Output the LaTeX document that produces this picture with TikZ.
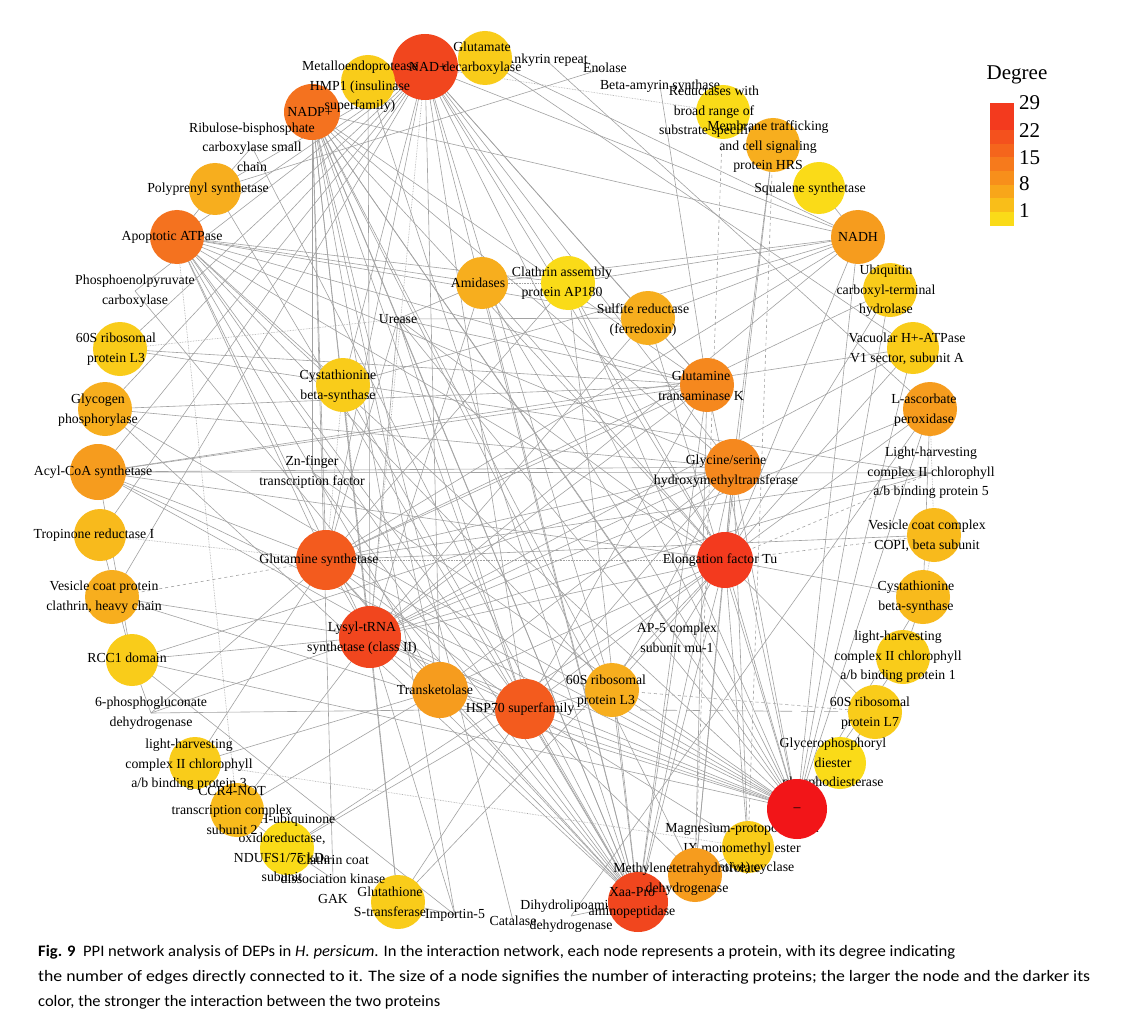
\documentclass[tikz,border=0pt]{standalone}
\usepackage{fontspec}
\usepackage{graphicx}
\setmainfont{Liberation Serif}
\newfontfamily\capfont{Carlito}
\usetikzlibrary{calc}
\definecolor{cA}{HTML}{FADB18}
\definecolor{cB}{HTML}{F9CC1A}
\definecolor{cC}{HTML}{F8BA1C}
\definecolor{cD}{HTML}{F7AE1E}
\definecolor{cE}{HTML}{F69C1E}
\definecolor{cF}{HTML}{F5881E}
\definecolor{cG}{HTML}{F4721F}
\definecolor{cH}{HTML}{F35B1E}
\definecolor{cI}{HTML}{F1461E}
\definecolor{cJ}{HTML}{F33A1E}
\definecolor{cRed}{HTML}{F21518}
\definecolor{edgegray}{HTML}{A2A2A2}
\newcommand\lblfont{\fontsize{13.8}{19.5}\selectfont}
\newcommand\bub[6]{%
  \node[bubble, minimum size=#2pt, fill=#3] (#1c) at (#1) {};
  \node[lbl] (#1t) at (#4,#5) {#6};}
\begin{document}
\begin{tikzpicture}[x=1pt,y=-1pt,
  edge/.style={draw=edgegray, line width=0.6pt},
  edot/.style={edge, densely dotted},
  edash/.style={edge, dashed},
  elong/.style={edge, dash pattern=on 14pt off 9pt},
  lbl/.style={font=\lblfont, align=center, inner sep=0pt, text=black},
  bubble/.style={circle, inner sep=0pt, draw=none}]
\useasboundingbox (0,0) rectangle (1123,1016);
\fill[white] (0,0) rectangle (1123,1016);
% ---------- node centres ----------
\coordinate (nadp) at (312,112);
\coordinate (metallo) at (368,82);
\coordinate (nad) at (425,67);
\coordinate (glutdc) at (485,58);
\coordinate (ankyrin) at (546,60);
\coordinate (enolase) at (605,68);
\coordinate (betaamy) at (660,86);
\coordinate (reduct) at (723,112);
\coordinate (membr) at (773,145);
\coordinate (squal) at (819,188);
\coordinate (nadh) at (858,237);
\coordinate (ubiq) at (890,290);
\coordinate (vacu) at (913,348);
\coordinate (lasc) at (930,409);
\coordinate (lhcbv) at (931,473);
\coordinate (copi) at (934,535);
\coordinate (cbsR) at (923,597);
\coordinate (lhcbi) at (903,657);
\coordinate (rplvii) at (875,712);
\coordinate (glycero) at (840,763);
\coordinate (red) at (797,809);
\coordinate (mgcyc) at (748,847);
\coordinate (methyl) at (695,875);
\coordinate (xaa) at (638,902);
\coordinate (dihydro) at (571,916);
\coordinate (catalase) at (513,921);
\coordinate (importin) at (455,915);
\coordinate (gst) at (398,902);
\coordinate (gak) at (333,879);
\coordinate (ndufs) at (287,848);
\coordinate (ccr) at (237,810);
\coordinate (lhcbiii) at (195,763);
\coordinate (pgd) at (151,713);
\coordinate (rcc) at (132,660);
\coordinate (vesicle) at (112,597);
\coordinate (tropinone) at (100,535);
\coordinate (acyl) at (98,472);
\coordinate (glycogen) at (105,409);
\coordinate (rpliiiL) at (120,349);
\coordinate (pepc) at (135,291);
\coordinate (apopt) at (177,237);
\coordinate (polypr) at (215,189);
\coordinate (rubisco) at (252,147);
\coordinate (urease) at (398,319);
\coordinate (amid) at (482,283);
\coordinate (clath) at (568,283);
\coordinate (sulf) at (648,318);
\coordinate (cbsI) at (343,385);
\coordinate (znf) at (312,472);
\coordinate (glns) at (326,560);
\coordinate (lysyl) at (370,637);
\coordinate (transk) at (440,690);
\coordinate (hsp) at (525,709);
\coordinate (rpliiiC) at (612,690);
\coordinate (apv) at (677,638);
\coordinate (eftu) at (725,560);
\coordinate (glyser) at (733,467);
\coordinate (gtk) at (707,385);
% ---------- edges ----------
\foreach \a/\b in {nadp/nadh,nadp/glns,nadp/lysyl,nadp/transk,nadp/hsp,nadp/xaa,nadp/rpliiiC,nadp/eftu,nadp/glyser,nadp/gtk,nadp/red,nadp/urease,nadp/znf,nadp/methyl,nadp/apv,nadp/gak,nadp/importin,nadp/gst,
 nad/glycogen,nad/acyl,nad/rpliiiL,nad/pepc,nad/tropinone,nad/vesicle,nad/glns,nad/hsp,nad/transk,nad/xaa,nad/eftu,nad/glyser,nad/gtk,nad/sulf,nad/nadh,nad/red,nad/clath,nad/polypr,nad/apopt,nad/cbsI,nad/rpliiiC,
 red/rcc,red/lhcbi,red/glycero,red/mgcyc,red/eftu,red/glyser,red/gtk,red/nadh,red/lasc,red/vacu,red/transk,red/hsp,red/rpliiiC,red/glns,red/lysyl,red/acyl,red/glycogen,red/apopt,red/amid,red/clath,red/sulf,red/urease,red/znf,red/vesicle,red/ubiq,red/cbsR,
 eftu/nadh,eftu/ubiq,eftu/vacu,eftu/lasc,eftu/cbsR,eftu/membr,eftu/amid,eftu/clath,eftu/urease,eftu/lysyl,eftu/transk,eftu/hsp,eftu/rpliiiC,eftu/xaa,eftu/methyl,eftu/mgcyc,eftu/gst,eftu/ndufs,eftu/apv,eftu/acyl,eftu/glyser,
 xaa/glns,xaa/lysyl,xaa/urease,xaa/amid,xaa/hsp,xaa/transk,xaa/rpliiiC,xaa/glyser,xaa/gtk,xaa/clath,xaa/apopt,xaa/polypr,xaa/rubisco,xaa/pepc,xaa/glycogen,xaa/cbsI,xaa/znf,xaa/apv,xaa/methyl,xaa/mgcyc,xaa/dihydro,
 lysyl/vesicle,lysyl/urease,lysyl/glns,lysyl/transk,lysyl/hsp,lysyl/glyser,lysyl/gtk,lysyl/nadh,lysyl/vacu,lysyl/lasc,lysyl/amid,lysyl/sulf,lysyl/rcc,lysyl/pgd,lysyl/ccr,lysyl/gst,lysyl/importin,lysyl/metallo,lysyl/lhcbv,
 glns/acyl,glns/urease,glns/hsp,glns/transk,glns/glyser,glns/gtk,glns/nadh,glns/ubiq,glns/copi,glns/lhcbv,glns/clath,glns/pgd,glns/lhcbiii,
 hsp/urease,hsp/transk,hsp/rpliiiC,hsp/glyser,hsp/gtk,hsp/mgcyc,hsp/methyl,hsp/gst,hsp/ndufs,hsp/pgd,hsp/apopt,hsp/acyl,
 apopt/eftu,apopt/glyser,apopt/gtk,apopt/sulf,apopt/clath,apopt/amid,apopt/lysyl,apopt/glns,apopt/transk,apopt/cbsI,apopt/rpliiiC,apopt/polypr,
 glyser/transk,glyser/rpliiiC,glyser/acyl,glyser/glycogen,glyser/rcc,glyser/methyl,glyser/mgcyc,glyser/membr,
 gtk/sulf,gtk/methyl,gtk/rpliiiL,gtk/acyl,gtk/urease,gtk/glycogen,gtk/betaamy,
 nadh/sulf,nadh/amid,nadh/clath,nadh/squal,nadh/cbsI,
 acyl/lhcbv,acyl/vacu,acyl/rcc,urease/sulf,urease/amid,
 lasc/cbsR,cbsR/lhcbi,rplvii/glycero,rplvii/eftu,
 ccr/ndufs,ndufs/gak,gst/importin,rcc/pgd,rcc/importin,lhcbiii/transk,ccr/transk,
 polypr/rubisco,polypr/enolase,ankyrin/lasc,glutdc/nadh,glutdc/vacu,metallo/xaa,
 rpliiiL/lhcbv,dihydro/lasc,catalase/nadp,tropinone/rcc}
  \draw[edge] (\a) -- (\b);
\foreach \a/\b in {nad/lysyl,nad/reduct,apopt/ccr,lhcbiii/mgcyc,tropinone/glns,glns/eftu,rpliiiL/urease,cbsI/glns,cbsI/lysyl,lasc/copi,copi/cbsR,amid/clath}
  \draw[edot] (\a) -- (\b);
\foreach \a/\b in {vesicle/glns,reduct/methyl,membr/mgcyc,eftu/copi,rpliiiC/rplvii,eftu/lhcbv}
  \draw[edash] (\a) -- (\b);
\draw[elong] (hsp) -- (rplvii);
% ---------- label-only nodes (below circles) ----------
\node[lbl] (ankyrinT) at (ankyrin) {Ankyrin repeat};
\node[lbl] (enolaseT) at (enolase) {Enolase};
\node[lbl] (lhcbvT) at (lhcbv) {Light-harvesting\\complex II chlorophyll\\a/b binding protein 5};
\node[lbl] (dihydroT) at (dihydro) {Dihydrolipoamide\\dehydrogenase};
\node[lbl] (catalaseT) at (catalase) {Catalase};
\node[lbl] (importinT) at (importin) {Importin-5};
\node[lbl] (pgdT) at (pgd) {6-phosphogluconate\\dehydrogenase};
\node[lbl] (pepcT) at (pepc) {Phosphoenolpyruvate\\carboxylase};
\node[lbl] (ureaseT) at (urease) {Urease};
\node[lbl] (znfT) at (znf) {Zn-finger\\transcription factor};
\node[lbl] (apvT) at (apv) {AP-5 complex\\subunit mu-1};
% ---------- bubbles ----------
\bub{nadp}{56}{cG}{310}{112}{NADP+}
\bub{nad}{66}{cI}{428}{67}{NAD+}
\bub{metallo}{54}{cB}{360}{87}{Metalloendoprotease\\HMP1 (insulinase\\superfamily)}
\bub{glutdc}{54}{cB}{482}{58}{Glutamate\\decarboxylase}
\bub{reduct}{54}{cA}{714}{112}{Reductases with\\broad range of\\substrate specificity}
\bub{membr}{54}{cD}{768}{147}{Membrane trafficking\\and cell signaling\\protein HRS}
\bub{squal}{52}{cA}{810}{189}{Squalene synthetase}
\bub{nadh}{54}{cE}{858}{237}{NADH}
\bub{ubiq}{54}{cB}{886}{291}{Ubiquitin\\carboxyl-terminal\\hydrolase}
\bub{vacu}{52}{cB}{907}{349}{Vacuolar H+-ATPase\\V1 sector, subunit A}
\bub{lasc}{54}{cE}{924}{410}{L-ascorbate\\peroxidase}
\bub{copi}{54}{cC}{927}{536}{Vesicle coat complex\\COPI, beta subunit}
\bub{cbsR}{54}{cC}{916}{597}{Cystathionine\\beta-synthase}
\bub{lhcbi}{54}{cB}{898}{657}{light-harvesting\\complex II chlorophyll\\a/b binding protein 1}
\bub{rplvii}{54}{cB}{870}{713}{60S ribosomal\\protein L7}
\bub{glycero}{52}{cA}{833}{764}{Glycerophosphoryl\\diester\\phosphodiesterase}
\bub{mgcyc}{52}{cB}{742}{849}{Magnesium-protoporphyrin\\IX monomethyl ester\\(oxidative) cyclase}
\bub{red}{60}{cRed}{797}{810}{--}
\bub{xaa}{60}{cI}{632}{903}{Xaa-Pro\\aminopeptidase}
\bub{methyl}{54}{cE}{687}{879}{Methylenetetrahydrofolate\\dehydrogenase}
\bub{gst}{54}{cB}{390}{902}{Glutathione\\S-transferase}
\bub{ndufs}{54}{cA}{282}{848}{NADH-ubiquinone\\oxidoreductase,\\NDUFS1/75 kDa\\subunit}
\bub{ccr}{54}{cC}{232}{810}{CCR4-NOT\\transcription complex\\subunit 2}
\bub{lhcbiii}{52}{cB}{189}{765}{light-harvesting\\complex II chlorophyll\\a/b binding protein 3}
\bub{rcc}{52}{cB}{127}{658}{RCC1 domain}
\bub{vesicle}{54}{cD}{104}{597}{Vesicle coat protein\\clathrin, heavy chain}
\bub{tropinone}{52}{cC}{94}{535}{Tropinone reductase I}
\bub{acyl}{56}{cE}{93}{472}{Acyl-CoA synthetase}
\bub{glycogen}{54}{cD}{98}{410}{Glycogen\\phosphorylase}
\bub{rpliiiL}{54}{cB}{116}{349}{60S ribosomal\\protein L3}
\bub{apopt}{54}{cG}{172}{237}{Apoptotic ATPase}
\bub{polypr}{52}{cD}{208}{189}{Polyprenyl synthetase}
\bub{amid}{52}{cD}{478}{283}{Amidases}
\bub{clath}{54}{cA}{562}{283}{Clathrin assembly\\protein AP180}
\bub{sulf}{54}{cD}{643}{320}{Sulfite reductase\\(ferredoxin)}
\bub{gtk}{54}{cF}{701}{386}{Glutamine\\transaminase K}
\bub{glyser}{56}{cF}{726}{471}{Glycine/serine\\hydroxymethyltransferase}
\bub{eftu}{56}{cJ}{720}{560}{Elongation factor Tu}
\bub{rpliiiC}{54}{cD}{606}{691}{60S ribosomal\\protein L3}
\bub{transk}{56}{cE}{435}{690}{Transketolase}
\bub{hsp}{60}{cH}{520}{709}{HSP70 superfamily}
\bub{lysyl}{62}{cI}{362}{638}{Lysyl-tRNA\\synthetase (class II)}
\bub{glns}{60}{cH}{319}{560}{Glutamine synthetase}
\bub{cbsI}{54}{cB}{338}{386}{Cystathionine\\beta-synthase}
% ---------- label-only nodes (above circles) ----------
\node[lbl] (rubiscoT) at (rubisco) {Ribulose-bisphosphate\\carboxylase small\\chain};
\node[lbl] (betaamyT) at (betaamy) {Beta-amyrin synthase};
\node[lbl] (gakT) at (gak) {Clathrin coat\\dissociation kinase\\GAK};
% ---------- legend ----------
\node[font=\fontsize{21}{24}\selectfont, inner sep=0pt] (legtitle) at (1017,75) {Degree};
\foreach \i/\c in {0/100,1/100,2/86,3/73,4/60,5/47,6/33,7/18,8/0}
  \fill[cJ!\c!cA] (990,{103+\i*13.6}) rectangle (1014,{103+(\i+1)*13.6+0.3});
\foreach \v/\yy in {29/103,22/131,15/158,8/184,1/211}
  \node[font=\fontsize{21}{24}\selectfont, anchor=west, inner sep=0pt] (leg\v) at (1019,\yy) {\v};
% ---------- caption ----------
\node[anchor=base west, inner sep=0pt] (cap1) at (38,956) {\resizebox{917pt}{\height}{\capfont\fontsize{16}{18}\selectfont\textbf{Fig. 9}\ \ PPI network analysis of DEPs in \textit{H. persicum}. In the interaction network, each node represents a protein, with its degree indicating}};
\node[anchor=base west, inner sep=0pt] (cap2) at (38,981) {\resizebox{1052pt}{\height}{\capfont\fontsize{16}{18}\selectfont the number of edges directly connected to it. The size of a node signifies the number of interacting proteins; the larger the node and the darker its}};
\node[anchor=base west, inner sep=0pt] (cap3) at (38,1006) {\resizebox{402pt}{\height}{\capfont\fontsize{16}{18}\selectfont color, the stronger the interaction between the two proteins}};
\end{tikzpicture}
\end{document}
